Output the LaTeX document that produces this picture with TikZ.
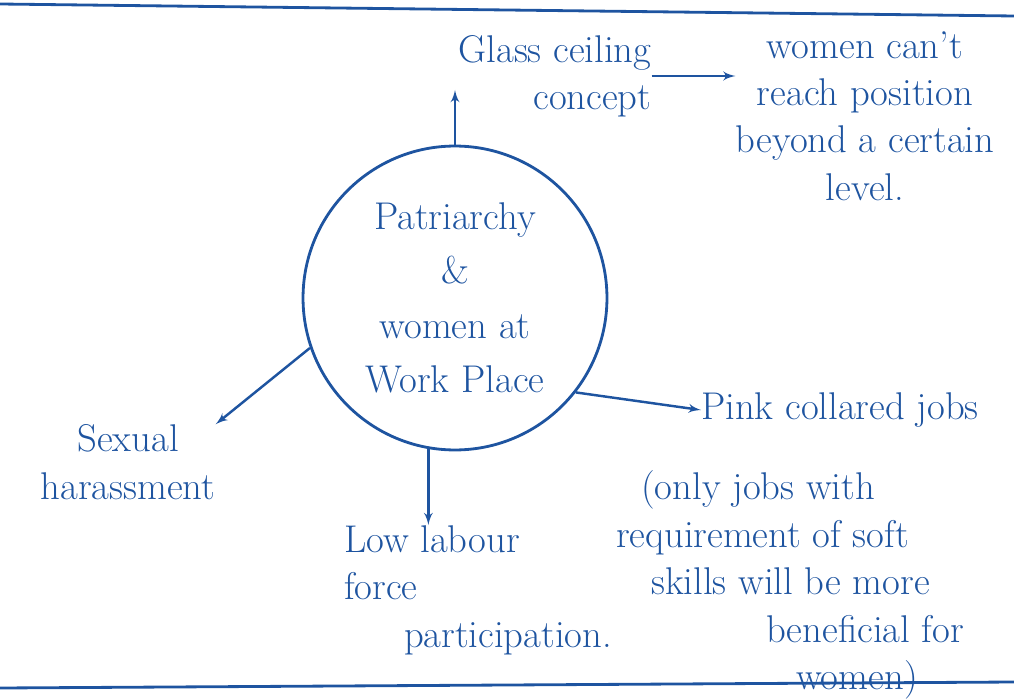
\documentclass[tikz,border=0pt]{standalone}
\usepackage{tikz}
\usetikzlibrary{arrows}
\usetikzlibrary{positioning}
\definecolor{ink}{RGB}{30,84,160}
\tikzset{hub/.style = {circle, draw, ink, line width = 1.6pt, text = ink, minimum size = 6.08cm,
                       align = center, font = \fontsize{22}{31}\selectfont}}
\tikzset{note/.style = {text = ink, align = center, inner sep = 0, font = \fontsize{22}{27}\selectfont}}
\tikzset{link/.style = {ink, line width = 1.4pt, -latex'}}
\tikzset{rule/.style = {ink, line width = 1.6pt}}

\begin{document}
\begin{tikzpicture}[x = 0.02cm, y = -0.02cm]
      \useasboundingbox (0, 0) rectangle (1014, 699);
      \draw [rule] (0, 4) -- (1014, 16);
      \draw [rule] (0, 688) -- (1014, 682);
      \node [hub] (centre) at (455, 298) {Patriarchy\\\&\\women at\\Work Place};
      \node [note, align = right] (glass) at (555, 76) {Glass ceiling\\concept};
      \node [note] (cant) at (865, 116) {women can't\\reach position\\beyond a certain\\level.};
      \node [note] (sexual) at (128, 462) {Sexual\\harassment};
      \node [note, align = left] (labour) at (478, 590) {Low labour\\force\\\hspace*{1.2cm}participation.};
      \node [note] (pink) at (840, 410) {Pink collared jobs};
      \node [note, align = left] (only) at (790, 585) {\hspace*{0.5cm}(only jobs with\\requirement of soft\\\hspace*{0.7cm}skills will be more\\\hspace*{3.0cm}beneficial for\\\hspace*{3.6cm}women)};
      \coordinate (glasstip) at (455, 90);
      \draw (centre.north) edge [link] (glasstip);
      \draw (glass.east) edge [link] (glass.east -| cant.west);
      \draw (centre.199) edge [link] (sexual.north east);
      \draw (centre.260) edge [link] (centre.260 |- labour.north);
      \draw (centre.-38) edge [link] (pink.west);
    \end{tikzpicture}
\end{document}
